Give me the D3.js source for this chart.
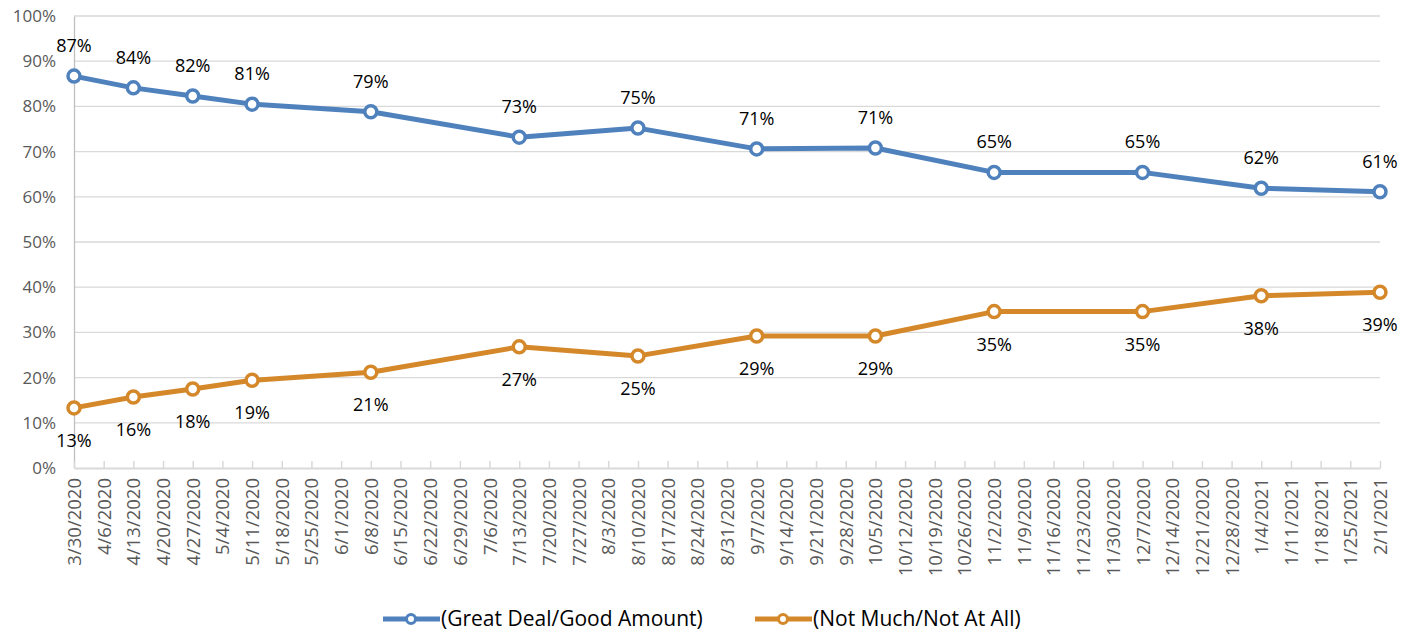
<!DOCTYPE html>
<html>
<head>
<meta charset="utf-8">
<script src="https://cdn.jsdelivr.net/npm/d3@7"></script>
<style>
  body { margin: 0; background: #fff; }
  text { font-family: "Open Sans", "Noto Sans", sans-serif; }
</style>
</head>
<body>
<div id="chart"></div>
<script>
    // weekly tick labels along the x axis
    const weeks = ["3/30/2020","4/6/2020","4/13/2020","4/20/2020","4/27/2020","5/4/2020","5/11/2020","5/18/2020",
        "5/25/2020","6/1/2020","6/8/2020","6/15/2020","6/22/2020","6/29/2020","7/6/2020","7/13/2020","7/20/2020",
        "7/27/2020","8/3/2020","8/10/2020","8/17/2020","8/24/2020","8/31/2020","9/7/2020","9/14/2020","9/21/2020",
        "9/28/2020","10/5/2020","10/12/2020","10/19/2020","10/26/2020","11/2/2020","11/9/2020","11/16/2020",
        "11/23/2020","11/30/2020","12/7/2020","12/14/2020","12/21/2020","12/28/2020","1/4/2021","1/11/2021",
        "1/18/2021","1/25/2021","2/1/2021"];

    // survey dates
    const surveyDates = ["3/30/2020","4/13/2020","4/27/2020","5/11/2020","6/8/2020","7/13/2020","8/10/2020",
        "9/7/2020","10/5/2020","11/2/2020","12/7/2020","1/4/2021","2/1/2021"];

    const greatDeal = [86.7, 84.1, 82.3, 80.5, 78.8, 73.2, 75.2, 70.6, 70.8, 65.4, 65.4, 61.9, 61.1];
    const notMuch   = [13.3, 15.7, 17.5, 19.4, 21.2, 26.8, 24.8, 29.2, 29.2, 34.6, 34.6, 38.1, 38.9];

    const yTicks = [0, 10, 20, 30, 40, 50, 60, 70, 80, 90, 100];

    const series = [
        {name: "(Great Deal/Good Amount)", values: greatDeal, color: "#4f81bd", above: true},
        {name: "(Not Much/Not At All)", values: notMuch, color: "#d4882a", above: false}
    ];

    const width = 1416, height = 635;
    const margin = {top: 16, right: 36, bottom: 167, left: 74};

    const svg = d3.select("#chart")
        .append("svg")
        .attr("width", width)
        .attr("height", height);

    const g = svg.append("g")
        .attr("transform", "translate(" + margin.left + "," + margin.top + ")");

    const w = width - margin.left - margin.right;
    const h = height - margin.top - margin.bottom;

    const x = d3.scalePoint()
        .domain(weeks)
        .range([0, w]);

    const y = d3.scaleLinear()
        .domain([0, 100])
        .range([h, 0]);

    // gridlines
    g.selectAll(".grid")
        .data(yTicks.filter(d => d > 0))
        .enter().append("line")
        .attr("x1", 0).attr("x2", w)
        .attr("y1", d => y(d)).attr("y2", d => y(d))
        .attr("stroke", "#d9d9d9")
        .attr("stroke-width", 1.3);

    // y axis
    const yAxis = g.append("g")
        .call(d3.axisLeft(y).tickValues(yTicks).tickFormat(d => d + "%").tickSize(0).tickPadding(18));
    yAxis.select(".domain").attr("stroke", "#bfbfbf").attr("stroke-width", 1.3);
    yAxis.selectAll("text").attr("fill", "#595959").style("font-size", "17px");

    // x axis
    const xAxis = g.append("g")
        .attr("transform", "translate(0," + h + ")")
        .call(d3.axisBottom(x).tickSizeInner(-7).tickSizeOuter(0).tickPadding(10));
    xAxis.select(".domain").attr("stroke", "#d9d9d9").attr("stroke-width", 2);
    xAxis.selectAll(".tick line").attr("stroke", "#d9d9d9").attr("stroke-width", 1.5);
    xAxis.selectAll("text")
        .attr("fill", "#595959")
        .style("font-size", "18.5px")
        .attr("text-anchor", "end")
        .attr("transform", "rotate(-90)")
        .attr("x", -10)
        .attr("y", 0)
        .attr("dy", "0.35em");

    const line = d3.line()
        .x((d, i) => x(surveyDates[i]))
        .y(d => y(d));

    series.forEach(s => {
        g.append("path")
            .datum(s.values)
            .attr("fill", "none")
            .attr("stroke", s.color)
            .attr("stroke-width", 5)
            .attr("stroke-linejoin", "round")
            .attr("d", line);

        g.selectAll(null)
            .data(s.values)
            .enter().append("circle")
            .attr("cx", (d, i) => x(surveyDates[i]))
            .attr("cy", d => y(d))
            .attr("r", 6)
            .attr("fill", "#fff")
            .attr("stroke", s.color)
            .attr("stroke-width", 3.5);

        g.selectAll(null)
            .data(s.values)
            .enter().append("text")
            .attr("x", (d, i) => x(surveyDates[i]))
            .attr("y", d => y(d) + (s.above ? -24 : 39))
            .attr("text-anchor", "middle")
            .attr("fill", "#000")
            .style("font-size", "18px")
            .text(d => Math.round(d) + "%");
    });

    // legend
    const legend = svg.append("g").attr("transform", "translate(0,619)");
    const legendX = [383, 755];
    series.forEach((s, i) => {
        const lg = legend.append("g").attr("transform", "translate(" + legendX[i] + ",0)");
        lg.append("line")
            .attr("x1", 0).attr("x2", 57)
            .attr("stroke", s.color).attr("stroke-width", 5);
        lg.append("circle")
            .attr("cx", 28).attr("r", 4.5)
            .attr("fill", "#fff").attr("stroke", s.color).attr("stroke-width", 3);
        lg.append("text")
            .attr("x", 58).attr("dy", "0.35em")
            .attr("fill", "#000")
            .style("font-size", "21px")
            .text(s.name);
    });
</script>
</body>
</html>
